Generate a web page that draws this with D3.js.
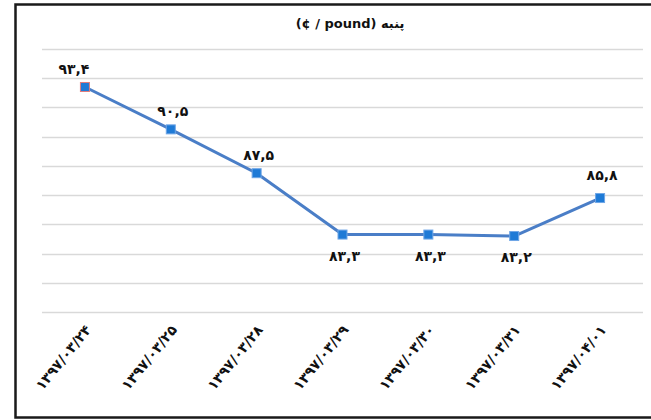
<!DOCTYPE html>
<html><head><meta charset="utf-8">
<script src="https://cdn.jsdelivr.net/npm/d3@7/dist/d3.min.js"></script>
<style>
html,body{margin:0;padding:0;background:#fff;}
svg{display:block;}
</style></head>
<body>
<svg id="chart" width="651" height="420"></svg>
<script>
const title = "(¢ / pound) پنبه";
const categories = ["۱۳۹۷/۰۳/۲۴","۱۳۹۷/۰۳/۲۵","۱۳۹۷/۰۳/۲۸","۱۳۹۷/۰۳/۲۹","۱۳۹۷/۰۳/۳۰","۱۳۹۷/۰۳/۳۱","۱۳۹۷/۰۴/۰۱"];
const values = [93.4, 90.5, 87.5, 83.3, 83.3, 83.2, 85.8];
const valueLabels = ["۹۳,۴","۹۰,۵","۸۷,۵","۸۳,۳","۸۳,۳","۸۳,۲","۸۵,۸"];
const labelBelow = [false, false, false, true, true, true, false];
const yTicks = [78, 80, 82, 84, 86, 88, 90, 92, 94, 96];

(function () {
const svg = d3.select("#chart");
const font = "'DejaVu Sans', sans-serif";

// frame
svg.append("rect").attr("x", 15.5).attr("y", 4.5).attr("width", 700).attr("height", 413)
  .attr("fill", "#fff").attr("stroke", "#1a1a1a").attr("stroke-width", 2.5);

const pl = 42, pr = 643, pt = 49, pb = 312;
const x = d3.scaleBand().domain(categories).range([pl, pr]);
const y = d3.scaleLinear().domain([78, 96]).range([pb, pt]);

// gridlines
svg.append("g").selectAll("line").data(yTicks).join("line")
  .attr("x1", pl).attr("x2", pr)
  .attr("y1", d => Math.round(y(d)) + 0.5).attr("y2", d => Math.round(y(d)) + 0.5)
  .attr("stroke", "#d9d9d9").attr("stroke-width", 1.5);

// title
svg.append("text").attr("x", 350).attr("y", 28).attr("text-anchor", "middle")
  .attr("direction", "ltr")
  .attr("font-family", font).attr("font-weight", "bold").attr("font-size", 13)
  .attr("fill", "#111").text(title);

// x labels
const cx = d => x(d) + x.bandwidth() / 2;
svg.append("g").selectAll("text").data(categories).join("text")
  .attr("transform", d => `translate(${cx(d) + 7},${330}) rotate(-51)`)
  .attr("text-anchor", "end").attr("direction", "ltr")
  .attr("font-family", font).attr("font-weight", "bold").attr("font-size", 14)
  .attr("letter-spacing", 2.4)
  .attr("fill", "#111").text(d => d);

// line
const pts = categories.map((c, i) => [cx(c), y(values[i])]);
svg.append("path").attr("d", d3.line()(pts)).attr("fill", "none")
  .attr("stroke", "#4a7ec7").attr("stroke-width", 3).attr("stroke-linejoin", "round");

// markers
svg.append("g").selectAll("rect").data(pts).join("rect")
  .attr("x", d => d[0] - 4.5).attr("y", d => d[1] - 4.5)
  .attr("width", 9).attr("height", 9)
  .attr("fill", "#1e7ad6")
  .attr("stroke", (d, i) => i === 0 ? "#e07b7b" : "#6fa6e6").attr("stroke-width", 1);

// value labels
svg.append("g").selectAll("text").data(pts).join("text")
  .attr("x", (d, i) => d[0] + (i === 0 ? -11 : 2))
  .attr("y", (d, i) => labelBelow[i] ? d[1] + 26 : d[1] - (i === 6 ? 18 : 13))
  .attr("text-anchor", "middle").attr("direction", "ltr")
  .attr("font-family", font).attr("font-weight", "bold").attr("font-size", 14)
  .attr("fill", "#111").text((d, i) => valueLabels[i]);
})();
</script>
</body></html>
